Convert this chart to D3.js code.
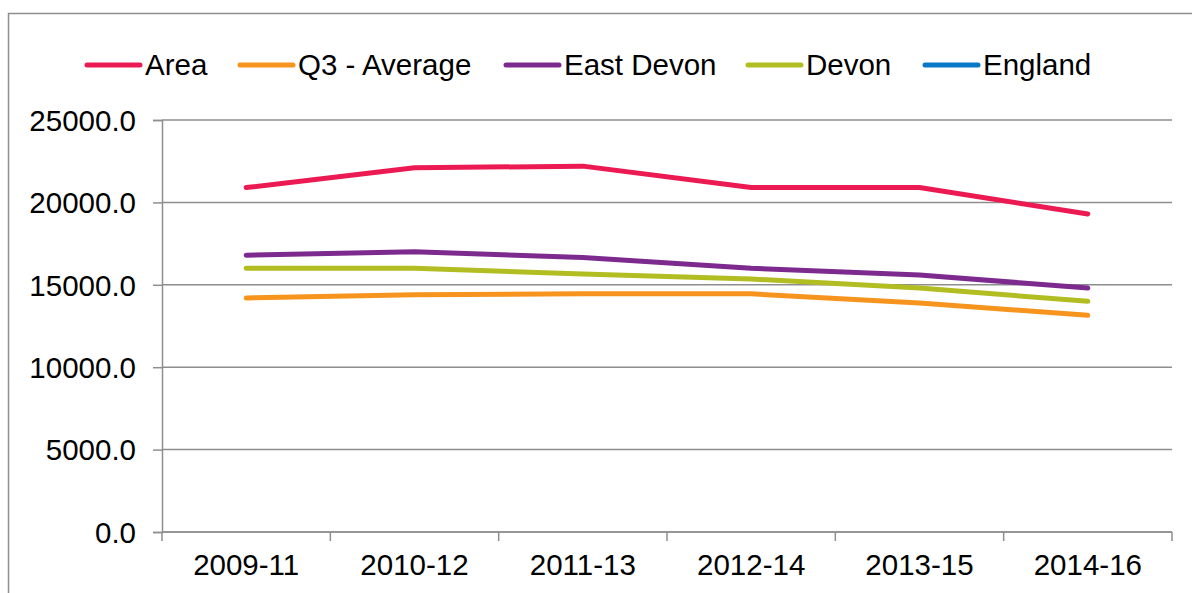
<!DOCTYPE html>
<html>
<head>
<meta charset="utf-8">
<script src="https://cdn.jsdelivr.net/npm/d3@7"></script>
<style>
  html, body { margin: 0; padding: 0; background: #fff; }
  svg { display: block; font-family: Arial, "Liberation Sans", sans-serif; }
</style>
</head>
<body>
<svg id="chart" width="1192" height="593"></svg>
<script>
// Periods on the x axis
const periods = ["2009-11", "2010-12", "2011-13", "2012-14", "2013-15", "2014-16"];

// Series values per period
const areaValues      = [20900, 22100, 22200, 20900, 20900, 19300];
const q3AverageValues = [14200, 14400, 14450, 14450, 13900, 13150];
const eastDevonValues = [16800, 17000, 16650, 16000, 15600, 14800];
const devonValues     = [16000, 16000, 15650, 15350, 14800, 14000];
const englandValues   = [null, null, null, null, null, null];

// Y axis ticks
const yTicks = [0, 5000, 10000, 15000, 20000, 25000];

const seriesNames  = ["Area", "Q3 - Average", "East Devon", "Devon", "England"];
const seriesColors = ["#EC1A52", "#F7941D", "#7D2A8E", "#B2BD22", "#0A78C8"];
const seriesValues = [areaValues, q3AverageValues, eastDevonValues, devonValues, englandValues];

const series = seriesNames.map((name, i) => ({
  name, color: seriesColors[i], values: seriesValues[i]
}));

const svg = d3.select("#chart");
const grey = "#8e8e8e";
const fontSize = 29.5;

// Outer frame of the chart
svg.append("rect")
  .attr("x", 8.5).attr("y", 13.5)
  .attr("width", 1200).attr("height", 600)
  .attr("fill", "none").attr("stroke", grey).attr("stroke-width", 1.5);

const plot = { left: 162, right: 1172, top: 120, bottom: 532 };

const x = d3.scaleBand().domain(periods).range([plot.left, plot.right]);
const y = d3.scaleLinear().domain([0, 25000]).range([plot.bottom, plot.top]);

// Horizontal gridlines
svg.append("g")
  .selectAll("line")
  .data(yTicks)
  .join("line")
  .attr("x1", plot.left).attr("x2", plot.right)
  .attr("y1", d => y(d)).attr("y2", d => y(d))
  .attr("stroke", grey).attr("stroke-width", 1.5);

// Y axis
const yAxis = svg.append("g")
  .attr("transform", `translate(${plot.left},0)`)
  .call(d3.axisLeft(y).tickValues(yTicks).tickSize(9).tickPadding(17)
    .tickFormat(d => d3.format(".1f")(d)));
yAxis.select(".domain").attr("stroke", grey).attr("stroke-width", 1.5);
yAxis.selectAll(".tick line").attr("stroke", grey).attr("stroke-width", 1.5);
yAxis.selectAll(".tick text")
  .attr("font-size", fontSize).attr("fill", "#000")
  .attr("font-family", "Arial, 'Liberation Sans', sans-serif")
  .attr("dy", "0.35em");

// X axis with ticks at category boundaries
const xAxis = svg.append("g")
  .attr("transform", `translate(0,${plot.bottom})`);
xAxis.append("line")
  .attr("x1", plot.left).attr("x2", plot.right)
  .attr("y1", 0).attr("y2", 0)
  .attr("stroke", grey).attr("stroke-width", 1.5);
const boundaries = periods.map(p => x(p)).concat([x(periods[periods.length - 1]) + x.bandwidth()]);
xAxis.selectAll("line.tick")
  .data(boundaries)
  .join("line")
  .attr("class", "tick")
  .attr("x1", d => d).attr("x2", d => d)
  .attr("y1", 0).attr("y2", 9)
  .attr("stroke", grey).attr("stroke-width", 1.5);
xAxis.selectAll("text")
  .data(periods)
  .join("text")
  .attr("x", d => x(d) + x.bandwidth() / 2)
  .attr("y", 43)
  .attr("text-anchor", "middle")
  .attr("font-size", fontSize)
  .attr("fill", "#000")
  .text(d => d);

// Series lines
const line = d3.line()
  .defined(d => d.v != null)
  .x(d => x(d.p) + x.bandwidth() / 2)
  .y(d => y(d.v));

svg.append("g")
  .selectAll("path")
  .data(series)
  .join("path")
  .attr("d", s => line(s.values.map((v, i) => ({ p: periods[i], v }))))
  .attr("fill", "none")
  .attr("stroke", s => s.color)
  .attr("stroke-width", 5)
  .attr("stroke-linecap", "round")
  .attr("stroke-linejoin", "round");

// Legend
const legendX = [87, 240, 506, 748, 925];
const legend = svg.append("g")
  .selectAll("g")
  .data(series)
  .join("g")
  .attr("transform", (d, i) => `translate(${legendX[i]},65)`);
legend.append("line")
  .attr("x1", 0).attr("x2", 53)
  .attr("y1", 0).attr("y2", 0)
  .attr("stroke", d => d.color)
  .attr("stroke-width", 5)
  .attr("stroke-linecap", "round");
legend.append("text")
  .attr("x", 58)
  .attr("y", 10)
  .attr("font-size", fontSize)
  .attr("fill", "#000")
  .text(d => d.name);
</script>
</body>
</html>
